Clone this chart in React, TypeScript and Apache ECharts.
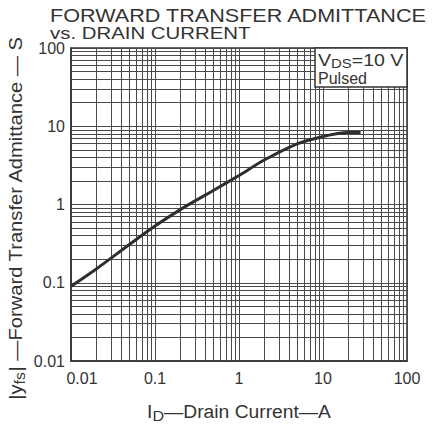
import React, { useEffect, useRef } from "react";
import * as echarts from "echarts";

// Drain current I_D (A) and forward transfer admittance |yfs| (S)
const drainCurrent = [0.01, 0.02, 0.05, 0.1, 0.2, 0.5, 1, 2, 5, 10, 15, 20, 28];
const admittance = [0.09, 0.15, 0.31, 0.53, 0.86, 1.52, 2.35, 3.7, 6.0, 7.4, 8.1, 8.35, 8.35];

// log-paper minor grid values
const xMinorGrid = [
  0.02, 0.03, 0.04, 0.05, 0.06, 0.07, 0.08, 0.09,
  0.2, 0.3, 0.4, 0.5, 0.6, 0.7, 0.8, 0.9,
  2, 3, 4, 5, 6, 7, 8, 9,
  20, 30, 40, 50, 60, 70, 80, 90,
];
const yMinorGrid = [
  0.02, 0.03, 0.04, 0.05, 0.06, 0.07, 0.08, 0.09,
  0.2, 0.3, 0.4, 0.5, 0.6, 0.7, 0.8, 0.9,
  2, 3, 4, 5, 6, 7, 8, 9,
  20, 30, 40, 50, 60, 70, 80, 90,
];

const titleLine1 = "FORWARD TRANSFER ADMITTANCE";
const titleLine2 = "vs. DRAIN CURRENT";

const GRID = "#4a4a4a";
const INK = "#333";
const FONT = "Liberation Sans";

function fmt(v: number) {
  return String(+Number(v).toPrecision(2));
}

export default function App() {
  const ref = useRef<HTMLDivElement>(null);
  useEffect(() => {
    if (!ref.current) return;
    const chart = echarts.init(ref.current, undefined, { renderer: "svg" });
    const data = drainCurrent.map((x, i) => [x, admittance[i]]);
    chart.setOption({
      animation: false,
      backgroundColor: "#fff",
      grid: {
        left: 71,
        right: 29,
        top: 48,
        bottom: 65,
        show: true,
        borderColor: INK,
        borderWidth: 1.5,
      },
      xAxis: {
        type: "log",
        logBase: 10,
        min: 0.01,
        max: 100,
        splitNumber: 4,
        axisLine: { show: true, lineStyle: { color: INK, width: 1.5 } },
        axisTick: { show: false },
        splitLine: { show: true, lineStyle: { color: GRID, width: 1 } },
        axisLabel: {
          margin: 9,
          color: INK,
          fontSize: 16,
          fontFamily: FONT,
          formatter: (v: number) => {
            const s = fmt(v);
            return s === "0.01" ? "{f|" + s + "}" : s;
          },
          rich: {
            f: { fontSize: 16, fontFamily: FONT, color: INK, padding: [0, 0, 0, 22] },
          },
        },
      },
      yAxis: {
        type: "log",
        logBase: 10,
        min: 0.01,
        max: 100,
        splitNumber: 4,
        axisLine: { show: true, lineStyle: { color: INK, width: 1.5 } },
        axisTick: { show: false },
        splitLine: { show: true, lineStyle: { color: GRID, width: 1 } },
        axisLabel: {
          margin: 6,
          color: INK,
          fontSize: 16,
          fontFamily: FONT,
          formatter: (v: number) => fmt(v),
        },
      },
      series: [
        {
          type: "line",
          data: [],
          silent: true,
          markLine: {
            silent: true,
            symbol: ["none", "none"],
            label: { show: false },
            emphasis: { disabled: true },
            lineStyle: { color: GRID, width: 1, type: "solid" },
            data: [
              ...xMinorGrid.map((v) => ({ xAxis: v })),
              ...yMinorGrid.map((v) => ({ yAxis: v })),
            ],
          },
        },
        {
          type: "line",
          data,
          smooth: 0.3,
          showSymbol: false,
          silent: true,
          z: 5,
          lineStyle: { color: "#2e2e2e", width: 3 },
        },
      ],
      graphic: [
        {
          type: "text",
          x: 50,
          y: 16,
          scaleX: 1.2,
          z: 100,
          style: {
            text: titleLine1,
            fontFamily: FONT,
            fontSize: 18,
            fill: INK,
            verticalAlign: "middle",
          },
        },
        {
          type: "text",
          x: 50,
          y: 33,
          scaleX: 1.2,
          z: 100,
          style: {
            text: titleLine2,
            fontFamily: FONT,
            fontSize: 17,
            fill: INK,
            verticalAlign: "middle",
          },
        },
        {
          type: "rect",
          z: 100,
          shape: { x: 315, y: 48, width: 92, height: 39 },
          style: { fill: "#fff", stroke: INK, lineWidth: 1.5 },
        },
        {
          type: "text",
          x: 318,
          y: 51,
          scaleX: 1.15,
          z: 101,
          style: {
            text: "{v|V}{s|DS}{v|=10 V}",
            rich: {
              v: { fontFamily: FONT, fontSize: 17, fill: INK, lineHeight: 18 },
              s: { fontFamily: FONT, fontSize: 13, fill: INK, lineHeight: 18, padding: [6, 0, 0, 0] },
            },
          },
        },
        {
          type: "text",
          x: 318,
          y: 70,
          z: 101,
          style: { text: "Pulsed", fontFamily: FONT, fontSize: 16, fill: INK },
        },
        {
          type: "text",
          x: 239,
          y: 412,
          scaleX: 1.07,
          z: 100,
          style: {
            text: "{v|I}{s|D}{v|—Drain Current—A}",
            align: "center",
            verticalAlign: "middle",
            rich: {
              v: { fontFamily: FONT, fontSize: 18, fill: INK, lineHeight: 20 },
              s: { fontFamily: FONT, fontSize: 15, fill: INK, lineHeight: 20, padding: [8, 0, 0, 0] },
            },
          },
        },
        {
          type: "text",
          x: 16,
          y: 218,
          rotation: Math.PI / 2,
          scaleX: 1.12,
          z: 100,
          style: {
            text: "{v||y}{s|fs}{v|| —Forward Transfer Admittance — S}",
            align: "center",
            verticalAlign: "middle",
            rich: {
              v: { fontFamily: FONT, fontSize: 18, fill: INK, lineHeight: 20 },
              s: { fontFamily: FONT, fontSize: 14, fill: INK, lineHeight: 20, padding: [8, 0, 0, 0] },
            },
          },
        },
      ],
    });
    return () => chart.dispose();
  }, []);
  return (
    <div
      ref={ref}
      style={{ position: "fixed", left: 0, top: 0, width: 436, height: 426 }}
    />
  );
}
